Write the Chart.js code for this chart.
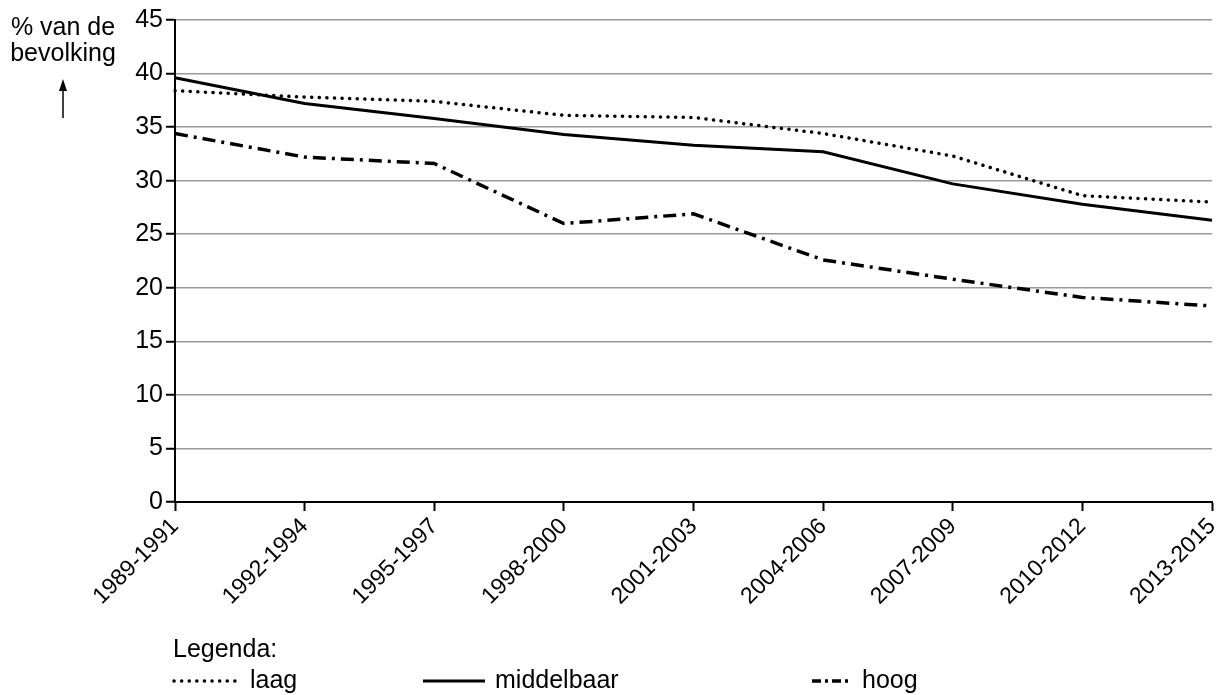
<!DOCTYPE html>
<html>
<head>
<meta charset="utf-8">
<script src="https://cdn.jsdelivr.net/npm/chart.js@4.4.1/dist/chart.umd.min.js"></script>
<style>
  html, body { margin: 0; padding: 0; background: #fff; }
  #wrap { width: 1227px; height: 695px; position: relative; }
</style>
</head>
<body>
<div id="wrap"><canvas id="grafiek"></canvas></div>
<script>
const perioden = ['1989-1991','1992-1994','1995-1997','1998-2000','2001-2003','2004-2006','2007-2009','2010-2012','2013-2015'];
const laag = [38.4, 37.8, 37.4, 36.1, 35.9, 34.4, 32.3, 28.6, 28.0];
const middelbaar = [39.6, 37.2, 35.8, 34.3, 33.3, 32.7, 29.7, 27.8, 26.3];
const hoog = [34.4, 32.2, 31.6, 26.0, 26.9, 22.6, 20.8, 19.1, 18.3];
const yTicks = [0, 5, 10, 15, 20, 25, 30, 35, 40, 45];

const lettertype = '"Liberation Sans", Arial, sans-serif';

// titel links boven + legenda onderaan
const extraTekst = {
  id: 'extraTekst',
  afterDraw(chart) {
    const ctx = chart.ctx;
    ctx.save();
    ctx.fillStyle = '#000';
    ctx.strokeStyle = '#000';
    ctx.font = '25px ' + lettertype;
    ctx.textAlign = 'center';
    ctx.textBaseline = 'middle';
    ctx.fillText('% van de', 63, 28);
    ctx.fillText('bevolking', 63, 54);
    // pijl
    ctx.lineWidth = 1.5;
    ctx.beginPath();
    ctx.moveTo(63, 118);
    ctx.lineTo(63, 84);
    ctx.stroke();
    ctx.beginPath();
    ctx.moveTo(63, 79);
    ctx.lineTo(59, 91);
    ctx.lineTo(67, 91);
    ctx.closePath();
    ctx.fill();

    // legenda
    ctx.textAlign = 'left';
    ctx.fillText('Legenda:', 173, 650);
    const monsters = [[174, 240, 250], [423, 485, 495], [812, 852, 862]];
    chart.data.datasets.forEach((ds, i) => {
      const [x0, x1, tx] = monsters[i];
      ctx.beginPath();
      ctx.lineWidth = ds.borderWidth;
      ctx.lineCap = ds.borderCapStyle || 'butt';
      ctx.setLineDash(i === 2 ? [9, 4, 3, 4] : (ds.borderDash || []));
      ctx.moveTo(x0, 681);
      ctx.lineTo(x1, 681);
      ctx.stroke();
      ctx.setLineDash([]);
      ctx.fillText(ds.label, tx, 681);
    });
    ctx.restore();
  }
};

new Chart(document.getElementById('grafiek'), {
  type: 'line',
  data: {
    labels: perioden,
    datasets: [
      {
        label: 'laag',
        data: laag,
        borderColor: '#000',
        borderWidth: 3.5,
        borderDash: [0.1, 7.5],
        borderCapStyle: 'round',
        pointRadius: 0,
        tension: 0
      },
      {
        label: 'middelbaar',
        data: middelbaar,
        borderColor: '#000',
        borderWidth: 3,
        pointRadius: 0,
        tension: 0
      },
      {
        label: 'hoog',
        data: hoog,
        borderColor: '#000',
        borderWidth: 3.5,
        borderDash: [13, 6, 3, 6],
        pointRadius: 0,
        tension: 0
      }
    ]
  },
  options: {
    responsive: true,
    maintainAspectRatio: false,
    animation: false,
    layout: { padding: { top: 20, right: 15, left: 0, bottom: 0 } },
    plugins: {
      legend: { display: false },
      tooltip: { enabled: false }
    },
    scales: {
      x: {
        offset: false,
        grid: { drawOnChartArea: false, drawTicks: true, tickColor: '#000', tickLength: 9, tickWidth: 2 },
        border: { color: '#000', width: 2 },
        ticks: {
          color: '#000',
          font: { family: lettertype, size: 23 },
          maxRotation: 45,
          minRotation: 45,
          autoSkip: false,
          padding: 2
        },
        afterFit(scale) {
          scale.height = 193;
          scale.paddingLeft = 0;
          scale.paddingRight = 0;
        }
      },
      y: {
        min: 0,
        max: 45,
        afterBuildTicks(scale) { scale.ticks = yTicks.map(v => ({ value: v })); },
        grid: { color: '#999', lineWidth: 1.5, tickColor: '#000', tickLength: 9, tickWidth: 2 },
        border: { color: '#000', width: 2 },
        ticks: {
          color: '#000',
          font: { family: lettertype, size: 25 },
          padding: 3
        },
        afterFit(scale) {
          scale.width = 175;
          scale.paddingTop = 0;
          scale.paddingBottom = 0;
        }
      }
    }
  },
  plugins: [extraTekst]
});
</script>
</body>
</html>
